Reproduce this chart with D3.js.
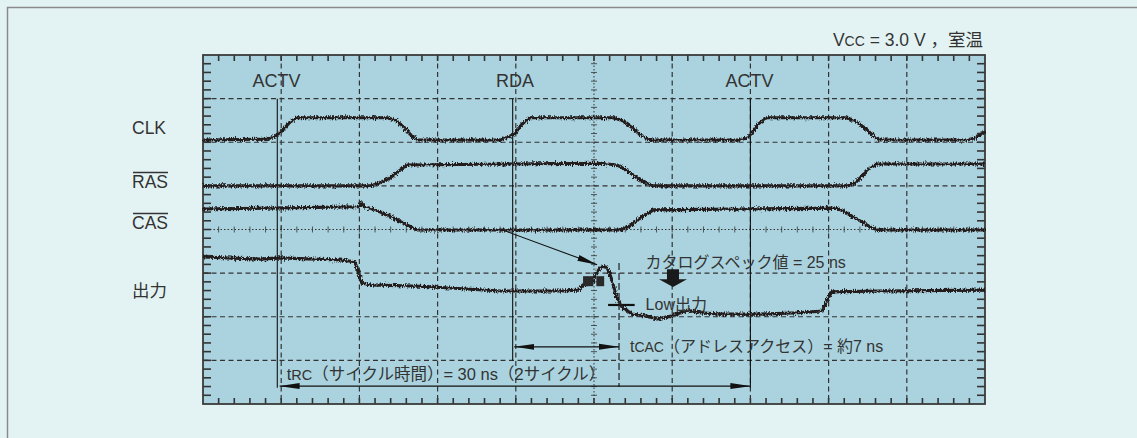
<!DOCTYPE html>
<html>
<head>
<meta charset="utf-8">
<script src="https://cdn.jsdelivr.net/npm/d3@7"></script>
<style>
  body { margin: 0; background: #e3f3f4; }
  svg text { font-family: "Liberation Sans", Arial, "Noto Sans CJK JP", sans-serif; fill: #333; }
</style>
</head>
<body>
<div id="chart"></div>
<script>
// waveforms: [time (ns), level (div)]
const clk = [[0,6.05],[4.1,6.07],[4.6,6.14],[5.05,6.26],[5.55,6.46],[6.0,6.56],[11.75,6.56],[12.3,6.51],[12.9,6.33],[13.35,6.14],[13.7,6.05],[19.0,6.05],[19.5,6.12],[19.95,6.2],[20.4,6.42],[20.9,6.56],[26.2,6.56],[26.8,6.5],[27.45,6.33],[28.05,6.14],[28.6,6.05],[34.35,6.05],[34.85,6.12],[35.1,6.22],[35.5,6.42],[36.05,6.56],[41.2,6.56],[41.75,6.48],[42.4,6.3],[42.95,6.12],[43.3,6.05],[48.85,6.05],[49.35,6.1],[50,6.24]];
const ras = [[0,5.0],[10.7,5.0],[11.3,5.07],[11.95,5.18],[12.45,5.32],[13.05,5.48],[25.4,5.52],[26.45,5.48],[27.1,5.36],[27.95,5.13],[28.8,5.0],[41.2,5.0],[41.7,5.07],[42.15,5.23],[42.65,5.41],[43.1,5.5],[50,5.5]];
const cas = [[0,4.47],[10.05,4.52],[10.1,4.61],[10.35,4.52],[11.0,4.45],[11.95,4.31],[12.9,4.13],[13.7,3.99],[26.65,3.99],[27.3,4.08],[27.95,4.26],[28.8,4.45],[40.55,4.49],[41.05,4.4],[42.0,4.2],[42.65,4.06],[43.1,3.99],[50,3.99]];
const dout = [[0,3.37],[3.65,3.32],[4.9,3.35],[8.75,3.3],[9.7,3.26],[9.9,3.07],[10.15,2.77],[10.7,2.73],[13.85,2.7],[15.8,2.66],[19.0,2.59],[22.85,2.59],[24.0,2.61],[24.3,2.73],[24.85,2.75],[25.2,3.03],[25.5,3.16],[25.85,3.12],[26.15,2.84],[26.45,2.43],[26.8,2.22],[27.45,2.06],[28.25,2.02],[29.05,1.95],[30.0,2.02],[30.95,2.15],[31.8,2.09],[33.05,2.06],[35.6,2.06],[38.15,2.09],[39.6,2.13],[39.9,2.38],[40.2,2.57],[43.3,2.59],[50,2.61]];

// channel labels (level in div)
const channels = [
  { name: "CLK", level: 6.32, bar: false },
  { name: "RAS", level: 5.1, bar: true },
  { name: "CAS", level: 4.16, bar: true },
  { name: "出力", level: 2.6, bar: false }
];
// states along the top
const states = [["ACTV", 4.7], ["RDA", 19.95], ["ACTV", 34.95]];
// timing markers (ns)
const markT = [4.75, 19.8, 35.0];
const tcacT = [19.9, 26.6];
const trcT = [4.9, 35.0];

const W = 1137, H = 438;
const plot = { left: 203, top: 55, width: 782, height: 349 };

const svg = d3.select("#chart").append("svg")
  .attr("width", W).attr("height", H);

const x = d3.scaleLinear().domain([0, 50]).range([plot.left, plot.left + plot.width]);
const y = d3.scaleLinear().domain([0, 8]).range([plot.top + plot.height, plot.top]);

const defs = svg.append("defs");
const f = defs.append("filter").attr("id", "noise")
  .attr("filterUnits", "userSpaceOnUse")
  .attr("x", 190).attr("y", 40).attr("width", 810).attr("height", 380);
f.append("feTurbulence").attr("type", "fractalNoise").attr("baseFrequency", "0.9 0.4")
  .attr("numOctaves", 2).attr("seed", 7).attr("result", "t");
f.append("feDisplacementMap").attr("in", "SourceGraphic").attr("in2", "t")
  .attr("scale", 5.5).attr("xChannelSelector", "R").attr("yChannelSelector", "G");

defs.append("marker").attr("id", "ah").attr("viewBox", "0 0 20 8")
  .attr("refX", 20).attr("refY", 4).attr("markerWidth", 20).attr("markerHeight", 8)
  .attr("markerUnits", "userSpaceOnUse").attr("orient", "auto-start-reverse")
  .append("path").attr("d", "M0,1 L20,4 L0,7 Z").attr("fill", "#111");

// outer frame
svg.append("path").attr("d", "M7.5," + H + " V7.5 H" + W)
  .attr("fill", "none").attr("stroke", "#8a8a8a").attr("stroke-width", 1.5);

// plot background
svg.append("rect").attr("x", plot.left).attr("y", plot.top)
  .attr("width", plot.width).attr("height", plot.height).attr("fill", "#aad3df");

const g = svg.append("g");

// grid
const vx = d3.range(1, 10), hy = d3.range(1, 8);
g.selectAll(".vg").data(vx).enter().append("line")
  .attr("x1", d => x(d * 5)).attr("x2", d => x(d * 5))
  .attr("y1", y(8)).attr("y2", y(0))
  .attr("stroke", "#333").attr("stroke-width", d => d === 5 ? 1 : 1.2)
  .attr("stroke-dasharray", d => d === 5 ? "1.5,2" : "5,3.5");
g.selectAll(".hg").data(hy).enter().append("line")
  .attr("x1", x(0)).attr("x2", x(50))
  .attr("y1", d => y(d)).attr("y2", d => y(d))
  .attr("stroke", "#333").attr("stroke-width", d => d === 4 ? 1 : 1.2)
  .attr("stroke-dasharray", d => d === 4 ? "1.5,2" : "5,3.5");

// minor ticks
const tx = d3.range(1, 50), ty = d3.range(1, 40).map(d => d / 5);
const tk = g.append("g").attr("stroke", "#333").attr("stroke-width", 1.6);
tx.forEach(t => {
  tk.append("line").attr("x1", x(t)).attr("x2", x(t)).attr("y1", y(8)).attr("y2", y(8) + 6);
  tk.append("line").attr("x1", x(t)).attr("x2", x(t)).attr("y1", y(0)).attr("y2", y(0) - 6);
  tk.append("line").attr("x1", x(t)).attr("x2", x(t)).attr("y1", y(4) - 3).attr("y2", y(4) + 3)
    .attr("stroke-width", 0.8);
});
ty.forEach(v => {
  tk.append("line").attr("x1", x(0)).attr("x2", x(0) + 8).attr("y1", y(v)).attr("y2", y(v));
  tk.append("line").attr("x1", x(50)).attr("x2", x(50) - 8).attr("y1", y(v)).attr("y2", y(v));
  tk.append("line").attr("x1", x(25) - 3).attr("x2", x(25) + 3).attr("y1", y(v)).attr("y2", y(v))
    .attr("stroke-width", 0.8);
});

svg.append("rect").attr("x", plot.left).attr("y", plot.top)
  .attr("width", plot.width).attr("height", plot.height)
  .attr("fill", "none").attr("stroke", "#3a3a3a").attr("stroke-width", 1.8);

// markers
const ann = svg.append("g").attr("stroke", "#111").attr("stroke-width", 1.1).attr("fill", "none");
ann.append("line").attr("x1", x(markT[0])).attr("x2", x(markT[0])).attr("y1", y(7)).attr("y2", y(0.37));
ann.append("line").attr("x1", x(markT[1])).attr("x2", x(markT[1])).attr("y1", y(7)).attr("y2", y(1.0));
ann.append("line").attr("x1", x(markT[2])).attr("x2", x(markT[2])).attr("y1", y(7)).attr("y2", y(0.37));
ann.append("line").attr("x1", x(tcacT[1])).attr("x2", x(tcacT[1])).attr("y1", y(3.23)).attr("y2", y(0.39))
  .attr("stroke-dasharray", "7,3");
ann.append("line").attr("x1", x(tcacT[0])).attr("x2", x(tcacT[1])).attr("y1", y(1.31)).attr("y2", y(1.31))
  .attr("marker-start", "url(#ah)").attr("marker-end", "url(#ah)");
ann.append("line").attr("x1", x(trcT[0])).attr("x2", x(trcT[1])).attr("y1", y(0.41)).attr("y2", y(0.41))
  .attr("marker-start", "url(#ah)").attr("marker-end", "url(#ah)");
ann.append("line").attr("x1", x(19.3)).attr("x2", x(25.2)).attr("y1", y(3.97)).attr("y2", y(3.19))
  .attr("marker-end", "url(#ah)");
ann.append("line").attr("x1", x(25.9)).attr("x2", x(27.6)).attr("y1", y(2.27)).attr("y2", y(2.27))
  .attr("stroke-width", 2.2);

// waveforms
const line = d3.line().x(d => x(d[0])).y(d => y(d[1]));
const wf = svg.append("g").attr("filter", "url(#noise)");
[clk, ras, cas, dout].forEach(s => {
  wf.append("path").datum(s).attr("d", line)
    .attr("fill", "none").attr("stroke", "#231b1b").attr("stroke-width", 3.1)
    .attr("stroke-linejoin", "round");
});

// squares at the output peak
const sq = [[24.3, 24.95], [25.15, 25.65]];
svg.selectAll(".sq").data(sq).enter().append("rect")
  .attr("x", d => x(d[0])).attr("width", d => x(d[1]) - x(d[0]))
  .attr("y", y(2.93)).attr("height", y(2.7) - y(2.93))
  .attr("fill", "#2a2a2a");

// block arrow
const bx = x(30.05), bt = y(3.09), bb = y(2.68);
svg.append("path")
  .attr("d", `M${bx - 6},${bt} H${bx + 6} V${bt + 10} H${bx + 14} L${bx},${bb} L${bx - 14},${bt + 10} H${bx - 6} Z`)
  .attr("fill", "#1a1a1a");

// texts
svg.selectAll(".st").data(states).enter().append("text")
  .attr("x", d => x(d[1])).attr("y", y(7.4) + 6)
  .attr("text-anchor", "middle").attr("font-size", 18).text(d => d[0]);

channels.forEach(c => {
  const t = svg.append("text").attr("x", 132).attr("y", y(c.level) + 6)
    .attr("font-size", 17.5).text(c.name);
  if (c.bar) {
    const b = t.node().getBBox();
    svg.append("line").attr("x1", b.x + 1).attr("x2", b.x + b.width)
      .attr("y1", b.y + 1).attr("y2", b.y + 1)
      .attr("stroke", "#333").attr("stroke-width", 1.3);
  }
});

const vcc = svg.append("text").attr("x", x(50) - 2).attr("y", 46)
  .attr("text-anchor", "end").attr("font-size", 17.5);
vcc.append("tspan").text("V");
vcc.append("tspan").attr("font-size", 14).text("CC");
vcc.append("tspan").text(" = 3.0 V ，室温");

svg.append("text").attr("x", x(28.3)).attr("y", y(3.24) + 5).attr("font-size", 16)
  .text("カタログスペック値 = 25 ns");
svg.append("text").attr("x", x(28.3)).attr("y", y(2.28) + 5).attr("font-size", 16)
  .text("Low出力");

const tc = svg.append("text").attr("x", x(27.3)).attr("y", y(1.31) + 5).attr("font-size", 16);
tc.append("tspan").text("t");
tc.append("tspan").attr("font-size", 14).text("CAC");
tc.append("tspan").text("（アドレスアクセス）= 約7 ns");

const tr = svg.append("text").attr("x", x(5.35)).attr("y", y(0.55)).attr("font-size", 16.5);
tr.append("tspan").text("t");
tr.append("tspan").attr("font-size", 14.5).text("RC");
tr.append("tspan").text("（サイクル時間）= 30 ns（2サイクル）");
</script>
</body>
</html>
